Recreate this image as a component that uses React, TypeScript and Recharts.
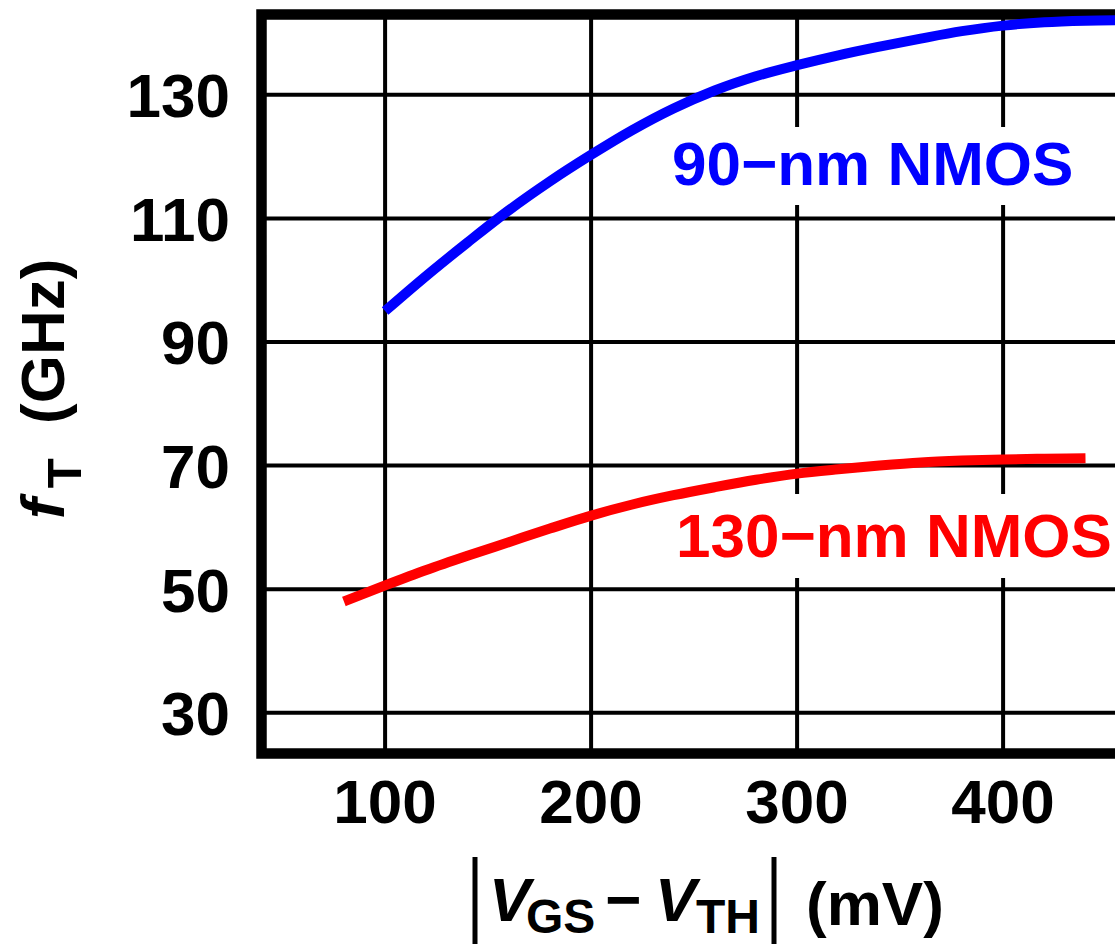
import React from 'react';
import { LineChart, Line, XAxis, YAxis, CartesianGrid, ReferenceArea } from 'recharts';

// |VGS - VTH| (mV) sample points and fT (GHz) values
const vov90 = [100, 120, 140, 160, 180, 200, 220, 240, 260, 280, 300, 320, 340, 360, 380, 400, 420, 440, 460];
const ft90 = [95.0, 100.7, 106.1, 111.3, 116.0, 120.3, 124.3, 127.8, 130.7, 133.0, 134.8, 136.4, 137.8, 139.1, 140.3, 141.2, 141.75, 142.0, 142.1];

const vov130 = [80, 100, 120, 140, 160, 180, 200, 220, 240, 260, 280, 300, 320, 340, 360, 380, 400, 420, 440];
const ft130 = [48.0, 50.6, 53.1, 55.4, 57.6, 59.8, 61.9, 63.7, 65.2, 66.5, 67.7, 68.7, 69.4, 70.0, 70.5, 70.8, 71.0, 71.1, 71.2];

const xTicks = [100, 200, 300, 400];
const yTicks = [30, 50, 70, 90, 110, 130];
const xDomain: [number, number] = [40, 460];
const yDomain: [number, number] = [23.4, 143];

const series90 = vov90.map((x, i) => ({ x, y: ft90[i] }));
const series130 = vov130.map((x, i) => ({ x, y: ft130[i] }));

const FONT = '"Liberation Sans", Arial, Helvetica, sans-serif';

const XTick = (props: any) => {
  const { x, payload } = props;
  return (
    <text x={x} y={823} textAnchor="middle" fontFamily={FONT} fontWeight={700} fontSize={62} fill="#000">
      {payload.value}
    </text>
  );
};

const YTick = (props: any) => {
  const { y, payload } = props;
  return (
    <text x={230} y={y + 22.5} textAnchor="end" fontFamily={FONT} fontWeight={700} fontSize={62} fill="#000">
      {payload.value}
    </text>
  );
};

const YLabel = () => (
  <text transform="translate(64,519) rotate(-90)" fontFamily={FONT} fontWeight={700} fontSize={62} fill="#000">
    <tspan fontStyle="italic">f</tspan>
    <tspan fontSize={49} dx={10} dy={17}>T</tspan>
    <tspan dy={-17}>{'\u00a0\u00a0(GHz)'}</tspan>
  </text>
);

const XLabel = () => (
  <g>
    <line x1={475} y1={857} x2={475} y2={950} stroke="#000" strokeWidth={5} />
    <line x1={774} y1={857} x2={774} y2={950} stroke="#000" strokeWidth={5} />
    <text fontFamily={FONT} fontWeight={700} fontSize={62} fill="#000">
      <tspan x={489} y={921} fontStyle="italic">V</tspan>
      <tspan x={526} y={933} fontSize={48}>GS</tspan>
      <tspan x={605} y={921}>{'\u2212'}</tspan>
      <tspan x={655} y={921} fontStyle="italic">V</tspan>
      <tspan x={696} y={933} fontSize={48}>TH</tspan>
      <tspan x={806} y={925}>(mV)</tspan>
    </text>
    <rect x={780} y={127} width={305} height={78} fill="#fff" />
    <text x={672} y={185} fontFamily={FONT} fontWeight={700} fontSize={62} fill="#0000ff">
      90{'\u2212'}nm NMOS
    </text>
    <rect x={770} y={494} width={354} height={84} fill="#fff" />
    <text x={676} y={557} fontFamily={FONT} fontWeight={700} fontSize={62} fill="#ff0000">
      130{'\u2212'}nm NMOS
    </text>
  </g>
);

export default function App() {
  return (
    <div style={{ position: 'fixed', left: 0, top: 0, width: 1115, height: 944, overflow: 'hidden', background: '#fff' }}>
      <LineChart width={1150} height={944} margin={{ top: 14.5, right: 23.3, bottom: 0, left: 0 }}>
        <CartesianGrid stroke="#000" strokeWidth={4} />
        <XAxis
          type="number"
          dataKey="x"
          domain={xDomain}
          ticks={xTicks}
          height={190.5}
          axisLine={false}
          tickLine={false}
          tick={<XTick />}
          label={<XLabel />}
        />
        <YAxis
          type="number"
          dataKey="y"
          domain={yDomain}
          ticks={yTicks}
          width={261.5}
          axisLine={false}
          tickLine={false}
          tick={<YTick />}
          label={<YLabel />}
        />
        <ReferenceArea x1={xDomain[0]} x2={xDomain[1]} y1={yDomain[0]} y2={yDomain[1]} fill="none" fillOpacity={0} stroke="#000" strokeWidth={10.5} ifOverflow="visible" />
        <Line data={series90} dataKey="y" type="monotone" stroke="#0000ff" strokeWidth={10} dot={false} activeDot={false} isAnimationActive={false} />
        <Line data={series130} dataKey="y" type="monotone" stroke="#ff0000" strokeWidth={10} dot={false} activeDot={false} isAnimationActive={false} />
      </LineChart>
    </div>
  );
}
